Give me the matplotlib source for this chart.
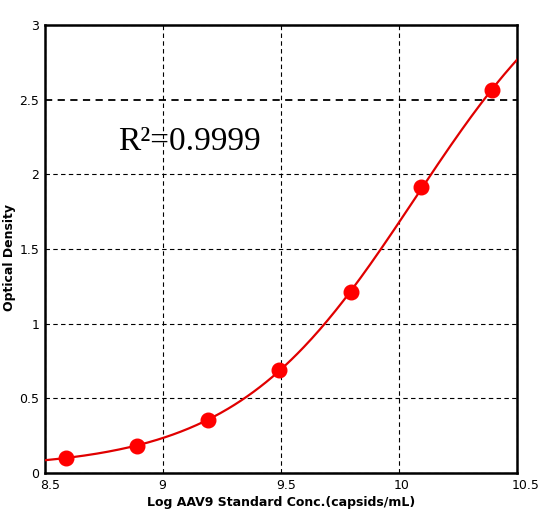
import numpy as np
import matplotlib.pyplot as plt
import matplotlib.transforms as mtransforms

# standard points
log_conc = [8.59, 8.89, 9.19, 9.49, 9.795, 10.095, 10.395]
od = [0.098, 0.183, 0.355, 0.69, 1.21, 1.913, 2.565]
r2_text = "R²=0.9999"

x_ticks = [8.5, 9, 9.5, 10, 10.5]
x_labels = ["8.5", "9", "9.5", "10", "10.5"]
y_ticks = [0, 0.5, 1, 1.5, 2, 2.5, 3]
y_labels = ["0", "0.5", "1", "1.5", "2", "2.5", "3"]


def fit_4pl(x, y):
    # grid search on slope/midpoint, bottom and top by least squares
    x = np.asarray(x)
    y = np.asarray(y)
    best = None
    for b in np.linspace(0.3, 4, 120):
        for c in np.linspace(9.0, 12.0, 150):
            g = 1 / (1 + 10 ** (b * (x - c)))
            A = np.column_stack([g, 1 - g])
            sol, *_ = np.linalg.lstsq(A, y, rcond=None)
            err = np.sum((A @ sol - y) ** 2)
            if best is None or err < best[0]:
                best = (err, b, c, sol[0], sol[1])
    _, b, c, a, d = best
    return lambda t: d + (a - d) / (1 + 10 ** (b * (t - c)))


fig = plt.figure(figsize=(5.44, 5.16), dpi=100)
ax = fig.add_axes([45/544, 43/516, 472/544, 448/516])

curve = fit_4pl(log_conc, od)
xs = np.linspace(8.5, 10.5, 300)
ax.plot(xs, curve(xs), color='#e00000', lw=1.6, zorder=3)
ax.plot(log_conc, od, 'o', color='red', ms=10.5, zorder=4)

ax.set_xlim(8.5, 10.5)
ax.set_ylim(0, 3)
ax.set_xticks(x_ticks)
ax.set_xticklabels(x_labels)
ax.set_yticks(y_ticks)
ax.set_yticklabels(y_labels)
ax.tick_params(length=0, labelsize=9)
ax.tick_params(axis='y', pad=4)
ax.tick_params(axis='x', pad=4)
shift = mtransforms.ScaledTranslation(-5/100, 0, fig.dpi_scale_trans)
for lab in ax.get_xticklabels():
    lab.set_horizontalalignment('left')
    lab.set_transform(lab.get_transform() + shift)
ax.grid(True, color='black', ls=(0, (4, 3)), lw=0.8)
ax.get_ygridlines()[5].set_linewidth(1.3)
for s in ax.spines.values():
    s.set_linewidth(1.8)

ax.set_xlabel("Log AAV9 Standard Conc.(capsids/mL)", fontsize=9,
              fontweight='bold', labelpad=3)
ax.set_ylabel("Optical Density", fontsize=9, fontweight='bold')
ax.yaxis.set_label_coords(-29/472, 0.48)

ax.text(8.81, 2.16, r2_text, fontsize=24, family='Liberation Serif')

fig.savefig("out.png", dpi=100)
